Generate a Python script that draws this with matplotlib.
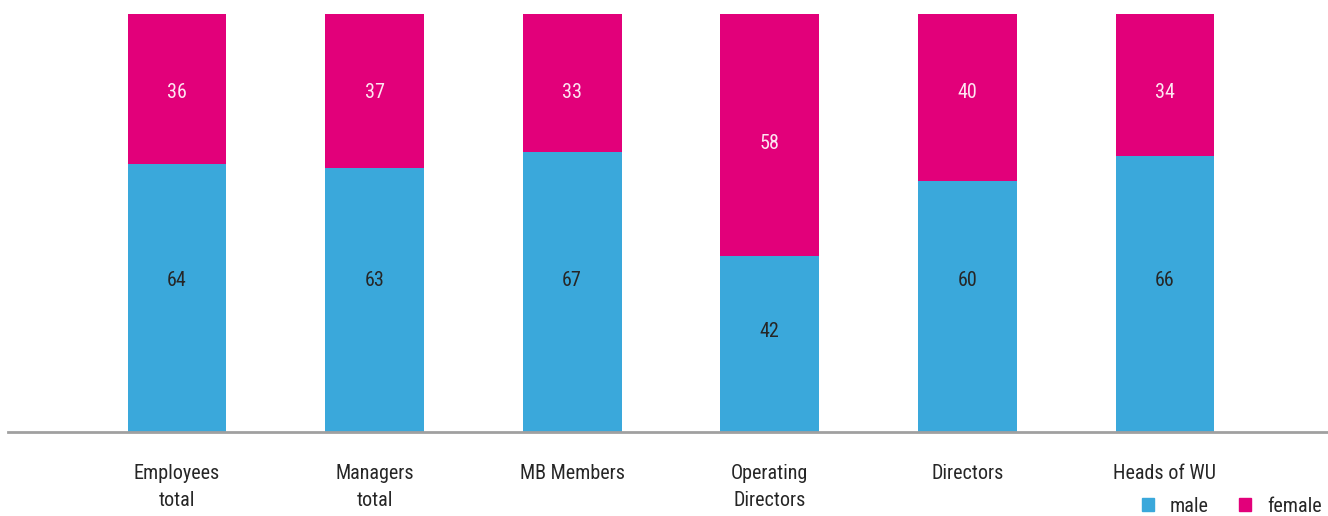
import numpy as np
import matplotlib.pyplot as plt
from matplotlib.patches import Patch

plt.rcParams['font.family'] = ['Roboto Condensed', 'Liberation Sans Narrow',
                               'Roboto', 'DejaVu Sans']

categories = ["Employees\ntotal", "Managers\ntotal", "MB Members",
              "Operating\nDirectors", "Directors", "Heads of WU"]
male = [64, 63, 67, 42, 60, 66]
female = [36, 37, 33, 58, 40, 34]

blue = "#3aa8db"
magenta = "#e2007a"
text_col = "#262626"

fig = plt.figure(figsize=(13.28, 5.16), dpi=100)
ax = fig.add_axes([8 / 1328, 84 / 516, 1320 / 1328, 418.5 / 516])

x = np.arange(len(categories))
m = np.array(male)
f = np.array(female)
ax.bar(x, m, width=0.5, color=blue, label="male")
ax.bar(x, f, width=0.5, bottom=m, color=magenta, label="female")

# value labels sit at a fixed height unless the segment is short
for xi, mv, fv in zip(x, m, f):
    ax.text(xi, min(36.1, mv - 18), str(mv), ha="center", va="center",
            fontsize=14.5, color=text_col)
    ax.text(xi, 100 - max(18.8, fv - 27), str(fv), ha="center", va="center",
            fontsize=14.5, color="#fde6f1")

ax.set_xlim(-0.855, 5.825)
ax.set_ylim(0, 100)
ax.set_yticks([])
ax.set_xticks(x)
ax.set_xticklabels(categories, fontsize=14.5, color=text_col, linespacing=1.55)
ax.tick_params(axis="x", length=0, pad=23)
for s in ["top", "right", "left"]:
    ax.spines[s].set_visible(False)
ax.spines["bottom"].set_color("#a0a0a0")
ax.spines["bottom"].set_linewidth(2)

handles = [Patch(color=blue, label="male"), Patch(color=magenta, label="female")]
fig.legend(handles=handles, loc="lower right", bbox_to_anchor=(1.009, -0.035),
           ncol=2, frameon=False, fontsize=14.5, handlelength=0.6,
           handleheight=0.6, handletextpad=0.8, columnspacing=1.5,
           labelcolor=text_col)

fig.savefig("out.png", dpi=100)
